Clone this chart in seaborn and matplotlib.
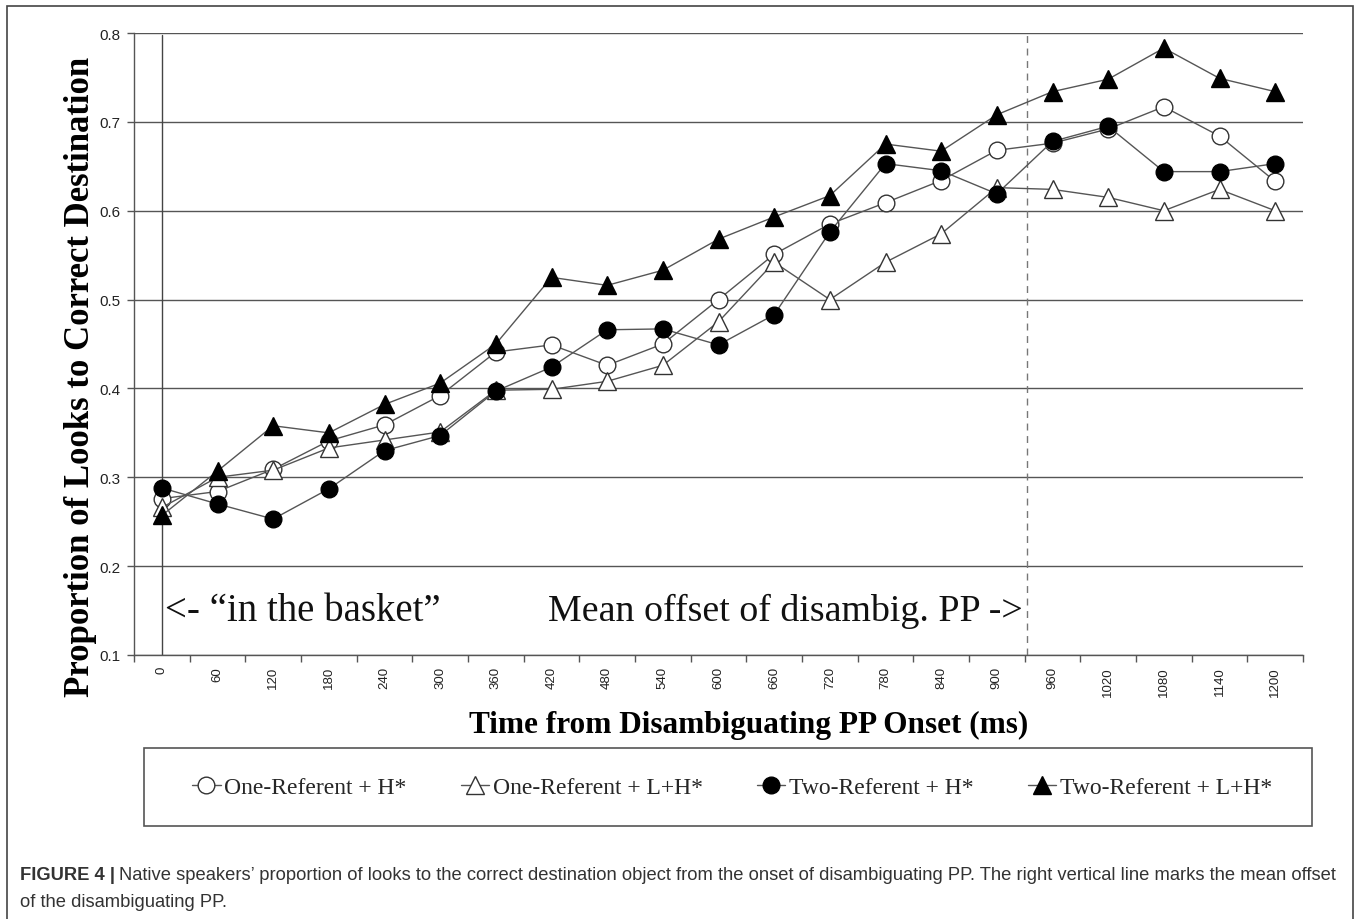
import matplotlib
matplotlib.use("Agg")
import matplotlib.pyplot as plt
import seaborn as sns
import pandas as pd
import numpy as np
from matplotlib.patches import Rectangle

# ---- data ----
times = [0, 60, 120, 180, 240, 300, 360, 420, 480, 540, 600, 660, 720,
         780, 840, 900, 960, 1020, 1080, 1140, 1200]
one_ref_h = [0.276, 0.284, 0.309, 0.341, 0.359, 0.392, 0.441, 0.449, 0.426, 0.450, 0.500,
             0.551, 0.585, 0.609, 0.634, 0.668, 0.676, 0.692, 0.717, 0.684, 0.633]
one_ref_lh = [0.266, 0.300, 0.308, 0.333, 0.342, 0.351, 0.398, 0.399, 0.408, 0.426, 0.475,
              0.542, 0.500, 0.542, 0.574, 0.626, 0.624, 0.615, 0.600, 0.624, 0.600]
two_ref_h = [0.288, 0.270, 0.253, 0.287, 0.330, 0.347, 0.397, 0.424, 0.466, 0.467, 0.449,
             0.483, 0.576, 0.653, 0.645, 0.619, 0.678, 0.695, 0.644, 0.644, 0.653]
two_ref_lh = [0.257, 0.307, 0.358, 0.350, 0.382, 0.406, 0.450, 0.525, 0.516, 0.533, 0.568,
              0.593, 0.617, 0.675, 0.667, 0.708, 0.734, 0.748, 0.783, 0.749, 0.734]
series_names = ["One-Referent + H*", "One-Referent + L+H*",
                "Two-Referent + H*", "Two-Referent + L+H*"]
series_vals = [one_ref_h, one_ref_lh, two_ref_h, two_ref_lh]
y_ticks = [0.1, 0.2, 0.3, 0.4, 0.5, 0.6, 0.7, 0.8]
offset_ms = 932

sns.set_theme(style="white")
plt.rcParams['font.family'] = ['Liberation Sans', 'DejaVu Sans']

W, H = 1358, 920
fig = plt.figure(figsize=(W/100, H/100), dpi=100)
ax = fig.add_axes([134/W, 1-656/H, (1303-134)/W, (656-34)/H])

styles = [("o", "white"), ("^", "white"), ("o", "black"), ("^", "black")]
for name, vals, (mk, fc) in zip(series_names, series_vals, styles):
    df = pd.DataFrame({"time": times, "value": vals})
    sns.lineplot(data=df, x="time", y="value", ax=ax, color="#555555", linewidth=1.0,
                 marker=mk, markersize=12 if mk == "o" else 13, markerfacecolor=fc,
                 markeredgecolor="#333333" if fc == "white" else "black",
                 markeredgewidth=1.0, label=name, legend=False, zorder=3)

ax.set_xlim(-30, 1230)
ax.set_ylim(0.1, 0.8)
ax.set_yticks(y_ticks)
ax.set_yticklabels([f"{t:.1f}" for t in y_ticks])
ax.set_xticks(times)
ax.set_xticklabels([str(t) for t in times], rotation=90, va="top")
ax.set_xticks(np.arange(-30, 1231, 60), minor=True)
ax.tick_params(axis="x", which="major", length=0, pad=8, labelsize=9.5, labelcolor="#222222")
ax.tick_params(axis="x", which="minor", length=5, width=1, color="#555555", direction="out", bottom=True)
ax.tick_params(axis="y", which="major", length=5, width=1, color="#555555", direction="out",
               left=True, pad=5, labelsize=11, labelcolor="#222222")
for y in y_ticks:
    ax.axhline(y, color="#555555", linewidth=1.0, zorder=1)
for s in ["top", "right"]:
    ax.spines[s].set_visible(False)
for s in ["left", "bottom"]:
    ax.spines[s].set_color("#555555")
    ax.spines[s].set_linewidth(1.0)

ax.plot([0, 0], [0.1, 0.798], color="#444444", linewidth=1.0, zorder=2)
ax.axvline(offset_ms, color="#777777", linewidth=1.0, linestyle=(0, (5, 4)), zorder=2)

ax.set_xlabel("Time from Disambiguating PP Onset (ms)", family="Liberation Serif",
              fontweight="bold", fontsize=22.5, color="black", va="center")
ax.xaxis.set_label_coords((749-134)/1169, -(725-656)/622)
ax.set_ylabel("Proportion of Looks to Correct Destination", family="Liberation Serif",
              fontweight="bold", fontsize=25, color="black")
ax.yaxis.set_label_coords((97-134)/1169, (656-377)/622)

ax.text(3, 0.139, "<- \u201cin the basket\u201d", family="Liberation Serif", fontsize=28,
        va="baseline", ha="left", color="#111111")
ax.text(928, 0.139, "Mean offset of disambig. PP ->", family="Liberation Serif", fontsize=27.3,
        va="baseline", ha="right", color="#111111")

handles, labels = ax.get_legend_handles_labels()
leg = fig.legend(handles, labels, ncol=4, loc="center",
                 bbox_to_anchor=((144+1312)/2/W + 4/W, 1-788/H),
                 frameon=False, prop={"family": "Liberation Serif", "size": 17},
                 handlelength=1.2, handletextpad=0.15, columnspacing=2.3,
                 borderpad=0, borderaxespad=0)

fig.patches.append(Rectangle((144/W, 1-827/H), (1312-144)/W, (827-749)/H, transform=fig.transFigure,
                             fill=False, edgecolor="#555555", linewidth=1.2))
fig.patches.append(Rectangle((7/W, -0.1), (1353-7)/W, 1.1-7/H, transform=fig.transFigure,
                             fill=False, edgecolor="#444444", linewidth=1.2))

fig.text(20/W, 1-876/H, "FIGURE 4 |", fontweight="bold", fontsize=13.2, color="#333333",
         va="center", ha="left")
fig.text(119/W, 1-876/H,
         "Native speakers\u2019 proportion of looks to the correct destination object from the onset of disambiguating PP. The right vertical line marks the mean offset",
         fontsize=13.2, color="#333333", va="center", ha="left")
fig.text(20/W, 1-903/H, "of the disambiguating PP.", fontsize=13.2, color="#333333",
         va="center", ha="left")

fig.savefig("out.png", dpi=100)
